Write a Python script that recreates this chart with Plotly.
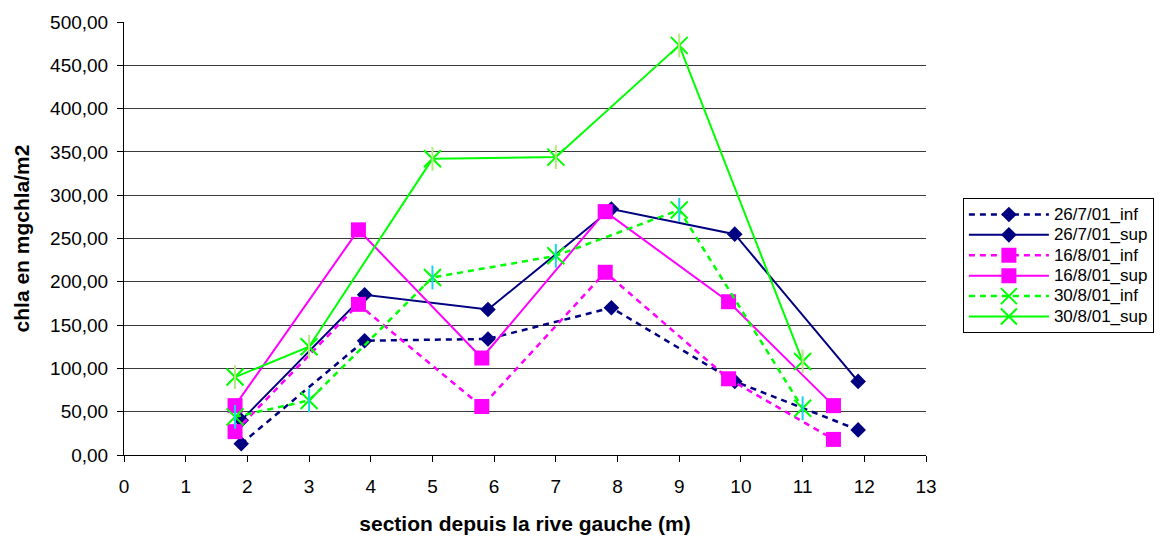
import plotly.graph_objects as go

# Section positions (m) and chlorophyll a (mg chla/m2) per sampling date and layer
x_2607 = [1.9, 3.9, 5.9, 7.9, 9.9, 11.9]
inf_2607 = [13, 132, 134, 170, 85, 29]
sup_2607 = [40, 185, 168, 284, 255, 85]

x_1608 = [1.8, 3.8, 5.8, 7.8, 9.8, 11.5]
inf_1608 = [27, 174, 56, 211, 88, 18]
sup_1608 = [57, 260, 112, 281, 177, 57]

x_3008 = [1.8, 3.0, 5.0, 7.0, 9.0, 11.0]
inf_3008 = [44, 63, 205, 230, 283, 54]
sup_3008 = [90, 125, 342, 344, 473, 108]

x_ticks = list(range(0, 14))
y_ticks = list(range(0, 501, 50))

NAVY = "#000080"
MAGENTA = "#FF00FF"
GREEN = "#00FF00"
DASH = "6px,5px"

fig = go.Figure()

def add_series(name, xs, ys, color, dash, symbol, size, star=False):
    width = 2.5 if dash != "solid" else 2
    marker = dict(symbol=symbol, size=size, color=color)
    if star:
        marker["line"] = dict(color=color, width=2)
    fig.add_trace(go.Scatter(
        x=xs, y=ys, mode="lines+markers",
        name='<span style="font-size:17px">' + name + "</span>",
        line=dict(color=color, width=width, dash=dash),
        marker=marker,
    ))
    if star:
        # vertical stroke completing the six-armed star marker
        fig.add_trace(go.Scatter(
            x=xs, y=ys, mode="markers", showlegend=False, hoverinfo="skip",
            marker=dict(symbol="line-ns-open", size=size,
                        line=dict(color=color, width=2)),
        ))

add_series("26/7/01_inf", x_2607, inf_2607, NAVY, DASH, "diamond", 12)
add_series("26/7/01_sup", x_2607, sup_2607, NAVY, "solid", "diamond", 12)
add_series("16/8/01_inf", x_1608, inf_1608, MAGENTA, DASH, "square", 15)
add_series("16/8/01_sup", x_1608, sup_1608, MAGENTA, "solid", "square", 15)
add_series("30/8/01_inf", x_3008, inf_3008, GREEN, DASH, "x-thin-open", 17, star=True)
add_series("30/8/01_sup", x_3008, sup_3008, GREEN, "solid", "x-thin-open", 17, star=True)

FONT = "Liberation Sans, Arial, sans-serif"

fig.update_layout(
    width=1169, height=543,
    margin=dict(l=124, r=243, t=20, b=88),
    paper_bgcolor="white", plot_bgcolor="white",
    separators=", ",
    font=dict(family=FONT, size=17, color="black"),
    showlegend=True,
    legend=dict(
        x=1.046, y=0.593, xanchor="left", yanchor="top",
        bordercolor="black", borderwidth=1, bgcolor="white",
        font=dict(family=FONT, size=13.4, color="black"),
        itemwidth=80, tracegroupgap=0,
    ),
    xaxis=dict(
        range=[0, 13], tickvals=x_ticks, ticktext=[str(v) for v in x_ticks],
        showgrid=False, zeroline=False,
        showline=True, linecolor="black", linewidth=1,
        ticks="outside", ticklen=6, tickcolor="black",
        ticklabelstandoff=8,
        tickfont=dict(size=19),
        title=dict(text="<b>section depuis la rive gauche (m)</b>",
                   font=dict(size=21), standoff=20),
    ),
    yaxis=dict(
        range=[0, 500], tickvals=y_ticks, tickformat=".2f",
        showgrid=True, gridcolor="#3a3a3a", gridwidth=1, zeroline=False,
        showline=True, linecolor="black", linewidth=1,
        ticks="outside", ticklen=6, tickcolor="black",
        ticklabelstandoff=5,
        tickfont=dict(size=19),
        title=dict(text="<b>chla en mgchla/m2</b>", font=dict(size=21), standoff=14),
    ),
)

fig.write_html("out.html")
